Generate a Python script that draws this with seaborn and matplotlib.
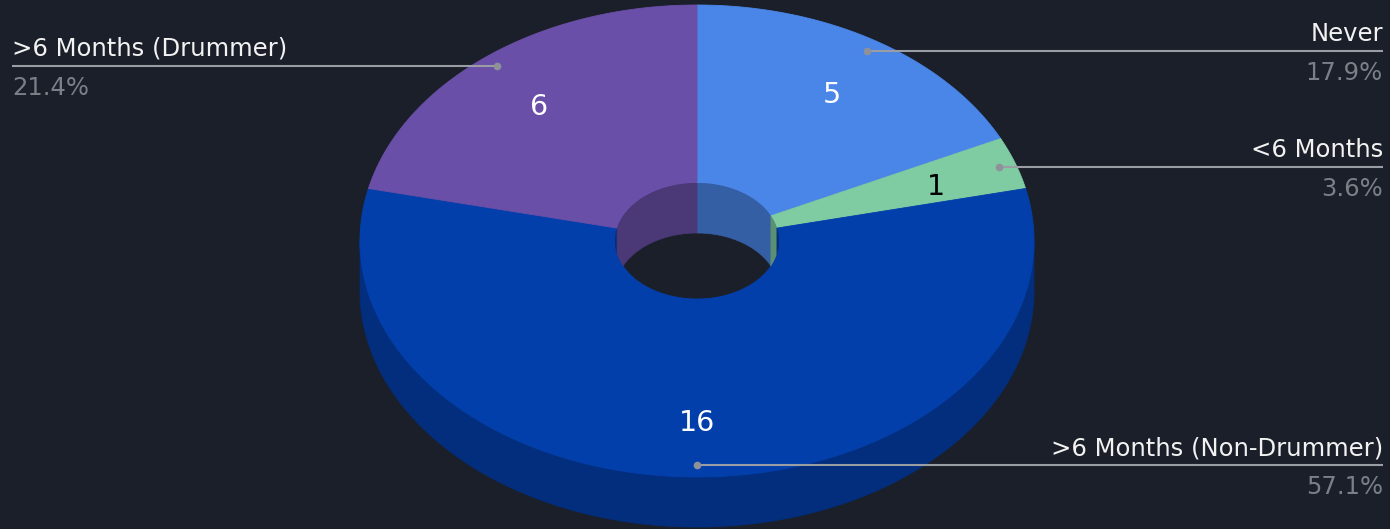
import numpy as np
import matplotlib
matplotlib.use("Agg")
import matplotlib.pyplot as plt
import seaborn as sns
from matplotlib.patches import Polygon, Ellipse
from matplotlib.colors import to_rgb

# ---- data ----
categories = ["Never", "<6 Months", ">6 Months (Non-Drummer)", ">6 Months (Drummer)"]
counts = [5, 1, 16, 6]
slice_colors = ["#4a86e8", "#7fcba2", "#033fab", "#6a4fa8"]

# ---- style ----
BG = "#1b1f2a"
sns.set_theme(style="dark")
plt.rcParams["font.family"] = ["DejaVu Sans"]

W, H = 1390, 529
fig = plt.figure(figsize=(W / 100, H / 100), dpi=100)
fig.patch.set_facecolor(BG)
ax = fig.add_axes([0, 0, 1, 1])
ax.set_facecolor(BG)
ax.set_xlim(0, W)
ax.set_ylim(H, 0)
ax.axis("off")

# geometry of the 3D donut (pixel space)
cx, cy = 697.0, 241.0
rx, ry = 337.0, 236.0
rx_in, ry_in = 82.0, 58.0
depth = 50.0
label_frac = 0.752
label_dy = 4.5
dot_frac = 0.95


def shade(c, f):
    r, g, b = to_rgb(c)
    return (r * f, g * f, b * f)


def pt(rx_, ry_, t, dy=0.0):
    t = np.radians(t)
    return cx + rx_ * np.cos(t), cy - ry_ * np.sin(t) + dy


total = float(sum(counts))
starts, ends = [], []
a = 90.0
for v in counts:
    sweep = 360.0 * v / total
    starts.append(a)
    ends.append(a - sweep)
    a -= sweep


def sampled(lo, hi):
    t = np.linspace(lo, hi, 1500)
    extra = [k * 180.0 for k in range(int(np.floor(lo / 180)) - 1, int(np.ceil(hi / 180)) + 2)
             if lo < k * 180.0 < hi]
    return np.unique(np.concatenate([t, extra]))


def runs(t, mask):
    out, cur = [], []
    for ti, m in zip(t, mask):
        if m:
            cur.append(ti)
        elif cur:
            out.append(np.array(cur)); cur = []
    if cur:
        out.append(np.array(cur))
    return out


# outer side walls (front half)
for s, e, c in zip(starts, ends, slice_colors):
    t = sampled(e, s)
    mask = np.sin(np.radians(t)) <= 1e-9
    for r in runs(t, mask):
        if len(r) < 2:
            continue
        x1, y1 = pt(rx, ry, r)
        x2, y2 = pt(rx, ry, r[::-1], depth)
        poly = np.column_stack([np.concatenate([x1, x2]), np.concatenate([y1, y2])])
        ax.add_patch(Polygon(poly, closed=True, facecolor=shade(c, 0.73),
                             edgecolor=shade(c, 0.73), lw=0.6, zorder=1))

# top faces
for s, e, c in zip(starts, ends, slice_colors):
    t = np.linspace(s, e, 600)
    xo, yo = pt(rx, ry, t)
    xi, yi = pt(rx_in, ry_in, t[::-1])
    poly = np.column_stack([np.concatenate([xo, xi]), np.concatenate([yo, yi])])
    ax.add_patch(Polygon(poly, closed=True, facecolor=c, edgecolor=c, lw=0.6, zorder=2))

# inner walls (back half of hole), clipped to hole ellipse
hole = Ellipse((cx, cy), 2 * rx_in, 2 * ry_in, transform=ax.transData,
               facecolor="none", edgecolor="none")
ax.add_patch(hole)
for s, e, c in zip(starts, ends, slice_colors):
    t = sampled(e, s)
    mask = np.sin(np.radians(t)) >= -1e-9
    for r in runs(t, mask):
        if len(r) < 2:
            continue
        x1, y1 = pt(rx_in, ry_in, r)
        x2, y2 = pt(rx_in, ry_in, r[::-1], depth)
        poly = np.column_stack([np.concatenate([x1, x2]), np.concatenate([y1, y2])])
        p = Polygon(poly, closed=True, facecolor=shade(c, 0.71),
                    edgecolor=shade(c, 0.71), lw=0.5, zorder=3)
        ax.add_patch(p)
        p.set_clip_path(hole)

# value labels, leader lines, category labels
line_col = "#9a9da4"
for s, e, c, v, name in zip(starts, ends, slice_colors, counts, categories):
    mid = (s + e) / 2.0
    lx, ly = pt(rx * label_frac, ry * label_frac, mid, label_dy)
    r_, g_, b_ = to_rgb(c)
    lum = 0.299 * r_ + 0.587 * g_ + 0.114 * b_
    ax.text(lx, ly, f"{v}", color="black" if lum > 0.6 else "white",
            fontsize=20.5, ha="center", va="center", zorder=5)

    dx, dy = pt(rx * dot_frac, ry * dot_frac, mid)
    pct = f"{100.0 * v / total:.1f}%"
    if np.cos(np.radians(mid)) >= 0:
        ax.plot([dx, 1383], [dy, dy], color=line_col, lw=1.5, zorder=6,
                solid_capstyle="butt")
        tx, ha = 1383, "right"
    else:
        ax.plot([12, dx], [dy, dy], color=line_col, lw=1.5, zorder=6,
                solid_capstyle="butt")
        tx, ha = 12, "left"
    ax.plot([dx], [dy], marker="o", ms=4.5, color="#8e9298", zorder=7)
    ax.text(tx, dy - 10, name, color="#f2f2f2", fontsize=17.5, ha=ha,
            va="baseline", zorder=6)
    ax.text(tx, dy + 29, pct, color="#7b7f87", fontsize=17.5, ha=ha,
            va="baseline", zorder=6)

fig.savefig("out.png", dpi=100, facecolor=BG)
